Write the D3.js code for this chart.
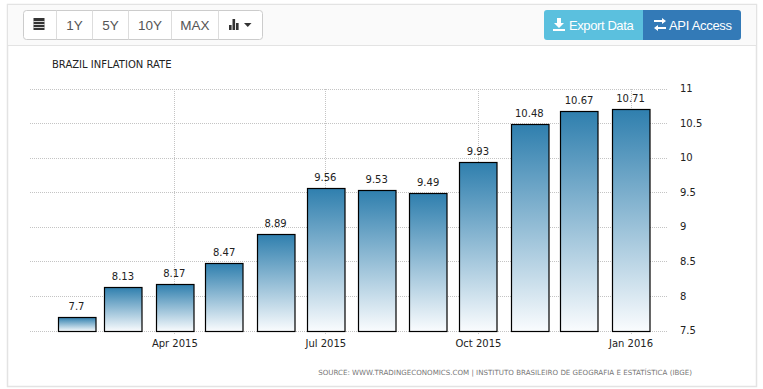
<!DOCTYPE html>
<html>
<head>
<meta charset="utf-8">
<script src="https://cdn.jsdelivr.net/npm/d3@7"></script>
<style>
html, body { margin: 0; padding: 0; background: #fff; overflow: hidden; }
text { font-family: "DejaVu Sans", sans-serif; fill: #222; }
.btn { font-family: "Liberation Sans", Arial, sans-serif; font-size: 13.5px; }
</style>
</head>
<body>
<div id="viz"></div>
<script>
const months = ["2015-02-01", "2015-03-01", "2015-04-01", "2015-05-01", "2015-06-01", "2015-07-01",
    "2015-08-01", "2015-09-01", "2015-10-01", "2015-11-01", "2015-12-01", "2016-01-01"]
const values = [7.7, 8.13, 8.17, 8.47, 8.89, 9.56, 9.53, 9.49, 9.93, 10.48, 10.67, 10.71]
const yTicks = [7.5, 8, 8.5, 9, 9.5, 10, 10.5, 11]
const xTickDates = ["2015-04-01", "2015-07-01", "2015-10-01", "2016-01-01"]
const rangeButtons = ["1Y", "5Y", "10Y", "MAX"]

const width = 763, height = 389
const parseDate = d3.utcParse("%Y-%m-%d")

const svg = d3.select("#viz").append("svg")
    .attr("width", width)
    .attr("height", height)

// panel frame + toolbar
svg.append("rect").attr("x", 7.5).attr("y", 4.5).attr("width", 749).attr("height", 382)
    .attr("fill", "#fff").attr("stroke", "#e3e3e3").attr("stroke-width", 1.5)
svg.append("rect").attr("x", 8).attr("y", 5).attr("width", 748).attr("height", 40.5)
    .attr("fill", "#fafafa")
svg.append("line").attr("x1", 8).attr("x2", 756).attr("y1", 45.5).attr("y2", 45.5)
    .attr("stroke", "#e3e3e3")

// button group on the left
const edges = [23.5, 56.5, 92.5, 128.5, 171.5, 218.5, 262.5]
const toolbar = svg.append("g")
toolbar.append("rect").attr("x", edges[0]).attr("y", 10.5)
    .attr("width", edges[6] - edges[0]).attr("height", 29).attr("rx", 3)
    .attr("fill", "#fff").attr("stroke", "#ccc")
toolbar.selectAll("line").data(edges.slice(1, 6)).enter().append("line")
    .attr("x1", d => d).attr("x2", d => d).attr("y1", 10.5).attr("y2", 39.5)
    .attr("stroke", "#ddd")
toolbar.selectAll("text").data(rangeButtons).enter().append("text")
    .attr("class", "btn")
    .attr("x", (d, i) => (edges[i + 1] + edges[i + 2]) / 2)
    .attr("y", 30)
    .attr("text-anchor", "middle")
    .style("fill", "#555")
    .text(d => d)

// calendar icon
toolbar.append("rect").attr("x", 33.5).attr("y", 18).attr("width", 11).attr("height", 12).attr("fill", "#333")
toolbar.selectAll(".cal").data([21.5, 24.5, 27.5]).enter().append("line")
    .attr("class", "cal").attr("x1", 33.5).attr("x2", 44.5).attr("y1", d => d).attr("y2", d => d)
    .attr("stroke", "#fff").attr("stroke-width", 0.8)

// bar chart icon + caret
toolbar.selectAll(".ico").data([[229, 5], [232.5, 11], [236, 7]]).enter().append("rect")
    .attr("class", "ico").attr("x", d => d[0]).attr("y", d => 30 - d[1])
    .attr("width", 2.6).attr("height", d => d[1]).attr("fill", "#333")
toolbar.append("path").attr("d", "M244,23h7.5l-3.75,4z").attr("fill", "#333")

// export / api buttons
svg.append("path").attr("d", "M643,10h-96a3,3 0 0 0 -3,3v24a3,3 0 0 0 3,3h96z").attr("fill", "#5bc0de")
svg.append("path").attr("d", "M643,10h95a3,3 0 0 1 3,3v24a3,3 0 0 1 -3,3h-95z").attr("fill", "#337ab7")
svg.append("path").attr("d", "M557,18h4v5h3l-5,5l-5,-5h3zM553,29h12v2h-12z").attr("fill", "#fff")
svg.append("path").attr("d", "M654,20h8v-2l4,3l-4,3v-2h-8zM666,27h-8v-2l-4,3l4,3v-2h8z").attr("fill", "#fff")
svg.append("text").attr("class", "btn").attr("x", 569).attr("y", 30).style("fill", "#fff")
    .style("font-size", "13px").style("letter-spacing", "-0.4px").text("Export Data")
svg.append("text").attr("class", "btn").attr("x", 669).attr("y", 30).style("fill", "#fff")
    .style("font-size", "13px").style("letter-spacing", "-0.3px").text("API Access")

// scales
const x = d3.scaleUtc()
    .domain([parseDate("2015-02-01"), parseDate("2016-01-01")])
    .range([76.5, 630.5])
const y = d3.scaleLinear()
    .domain([7.5, 11])
    .range([330.5, 88.5])

const barWidth = 37.5
const plotLeft = 30, plotRight = 668

// gradient for the bars
const grad = svg.append("defs").append("linearGradient")
    .attr("id", "barFill").attr("x1", 0).attr("x2", 0).attr("y1", 0).attr("y2", 1)
grad.append("stop").attr("offset", "0%").attr("stop-color", "#2f7fae")
grad.append("stop").attr("offset", "100%").attr("stop-color", "#fafcfe")

// horizontal grid
svg.append("g").selectAll("line").data(yTicks).enter().append("line")
    .attr("x1", plotLeft).attr("x2", plotRight)
    .attr("y1", d => Math.round(y(d)) + 0.5).attr("y2", d => Math.round(y(d)) + 0.5)
    .attr("stroke", "#c4c4c4").attr("stroke-dasharray", "1,1")

// vertical grid
svg.append("g").selectAll("line").data(xTickDates).enter().append("line")
    .attr("x1", d => Math.round(x(parseDate(d))) + 0.5).attr("x2", d => Math.round(x(parseDate(d))) + 0.5)
    .attr("y1", Math.round(y(11))).attr("y2", Math.round(y(7.5)) + 4)
    .attr("stroke", "#c4c4c4").attr("stroke-dasharray", "1,1")

// bars
const bars = svg.append("g")
bars.selectAll("rect").data(months).enter().append("rect")
    .attr("x", d => Math.round(x(parseDate(d)) - barWidth / 2) + 0.5)
    .attr("y", (d, i) => Math.round(y(values[i])) + 0.5)
    .attr("width", barWidth)
    .attr("height", (d, i) => Math.round(y(7.5)) - Math.round(y(values[i])))
    .attr("fill", "url(#barFill)")
    .attr("stroke", "#000")
    .attr("stroke-width", 1.2)

// bar labels
svg.append("g").selectAll("text").data(months).enter().append("text")
    .attr("x", d => x(parseDate(d)))
    .attr("y", (d, i) => y(values[i]) - 7)
    .attr("text-anchor", "middle")
    .style("font-size", "10px")
    .text((d, i) => values[i])

// y axis
const yAxis = svg.append("g")
    .attr("transform", `translate(${plotRight},0)`)
    .call(d3.axisRight(y).tickValues(yTicks).tickSize(0).tickPadding(12).tickFormat(d => d))
yAxis.select(".domain").remove()
yAxis.selectAll("text").style("font-size", "10px").style("font-family", "DejaVu Sans")

// x axis
const xAxis = svg.append("g")
    .attr("transform", `translate(0,${y(7.5) + 2})`)
    .call(d3.axisBottom(x).tickValues(xTickDates.map(parseDate)).tickSize(0).tickPadding(7).tickFormat(d3.utcFormat("%b %Y")))
xAxis.select(".domain").remove()
xAxis.selectAll("text").style("font-size", "10px").style("font-family", "DejaVu Sans")

// title + source
svg.append("text").attr("x", 52).attr("y", 68).style("font-size", "10px").text("BRAZIL INFLATION RATE")
svg.append("text").attr("x", 692).attr("y", 375)
    .attr("text-anchor", "end")
    .style("font-size", "7.1px").style("fill", "#777")
    .text("SOURCE: WWW.TRADINGECONOMICS.COM | INSTITUTO BRASILEIRO DE GEOGRAFIA E ESTATÍSTICA (IBGE)")
</script>
</body>
</html>
